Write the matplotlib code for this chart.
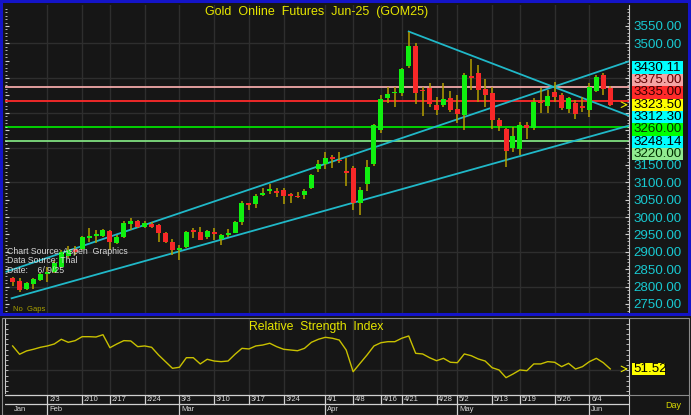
import matplotlib
matplotlib.use('Agg')
import matplotlib.pyplot as plt
import matplotlib.transforms as mtransforms
from matplotlib.patches import Rectangle
from matplotlib.lines import Line2D
from matplotlib import font_manager

# ---------------- data ----------------
opens = [2824, 2817, 2793, 2808, 2819, 2836, 2843, 2857, 2888, 2908,
         2907, 2941, 2946, 2946, 2960, 2925, 2944, 2980, 2990, 2972,
         2980, 2977, 2953, 2929, 2907, 2913, 2961, 2956, 2942, 2956,
         2936, 2949, 2955, 2985, 3040, 3038, 3064, 3075, 3075, 3077,
         3067, 3061, 3065, 3085, 3139, 3153, 3173, 3165, 3132, 3142,
         3042, 3094, 3152, 3251, 3342, 3356, 3358, 3436, 3492, 3366,
         3371, 3323, 3323, 3342, 3310, 3294, 3406, 3414, 3368, 3356,
         3280, 3254, 3198, 3196, 3265, 3256, 3332, 3320, 3361, 3351,
         3310, 3328, 3321, 3307, 3362, 3409, 3372]
highs = [2829, 2825, 2812, 2825, 2839, 2857, 2874, 2905, 2917, 2917,
         2946, 2968, 2963, 2966, 2963, 2949, 2989, 2997, 2993, 2989,
         2986, 2980, 2957, 2937, 2920, 2961, 2968, 2971, 2964, 2968,
         2951, 2965, 2989, 3045, 3042, 3067, 3083, 3095, 3083, 3084,
         3070, 3073, 3080, 3124, 3164, 3187, 3179, 3187, 3171, 3147,
         3088, 3164, 3267, 3351, 3375, 3375, 3430, 3534, 3502, 3375,
         3387, 3345, 3385, 3363, 3351, 3414, 3454, 3438, 3397, 3375,
         3285, 3257, 3258, 3275, 3275, 3343, 3372, 3366, 3390, 3357,
         3347, 3337, 3347, 3385, 3409, 3416, 3376]
lows = [2802, 2785, 2789, 2793, 2816, 2814, 2839, 2854, 2882, 2891,
        2905, 2929, 2926, 2943, 2905, 2923, 2941, 2963, 2969, 2969,
        2969, 2929, 2926, 2891, 2877, 2910, 2939, 2933, 2938, 2934,
        2920, 2944, 2953, 2977, 3021, 3025, 3061, 3067, 3059, 3038,
        3042, 3054, 3052, 3081, 3131, 3138, 3141, 3155, 3090, 3021,
        3006, 3075, 3147, 3243, 3329, 3318, 3349, 3430, 3325, 3292,
        3316, 3294, 3316, 3303, 3270, 3251, 3366, 3332, 3316, 3253,
        3248, 3145, 3188, 3179, 3224, 3251, 3300, 3299, 3332, 3308,
        3299, 3282, 3303, 3287, 3359, 3351, 3320]
closes = [2814, 2790, 2810, 2822, 2836, 2843, 2869, 2900, 2905, 2900,
          2943, 2944, 2949, 2963, 2929, 2944, 2984, 2989, 2971, 2984,
          2972, 2953, 2929, 2905, 2910, 2958, 2957, 2934, 2961, 2953,
          2948, 2953, 2985, 3042, 3036, 3061, 3069, 3081, 3069, 3061,
          3061, 3057, 3076, 3121, 3152, 3171, 3166, 3161, 3129, 3042,
          3078, 3145, 3264, 3339, 3354, 3361, 3426, 3492, 3358, 3363,
          3326, 3308, 3341, 3308, 3296, 3409, 3402, 3366, 3351, 3280,
          3262, 3191, 3233, 3265, 3256, 3330, 3328, 3349, 3345, 3313,
          3342, 3296, 3313, 3375, 3402, 3368, 3323.5]
rsi = [73.6, 65.6, 68.8, 70.4, 72.3, 73.6, 75.5, 80.0, 77.1, 78.7,
       82.5, 82.5, 82.2, 84.4, 71.9, 75.5, 78.7, 78.4, 72.9, 73.6,
       72.3, 64.9, 58.5, 52.1, 53.1, 62.3, 62.3, 56.3, 60.8, 59.1,
       58.5, 59.1, 65.6, 71.3, 70.7, 73.6, 74.5, 76.2, 72.9, 70.4,
       69.7, 69.0, 71.3, 77.1, 80.0, 81.9, 81.0, 79.3, 69.7, 48.8,
       56.9, 64.9, 73.6, 76.7, 77.7, 77.7, 81.0, 83.2, 66.5, 65.9,
       62.3, 59.4, 61.7, 57.9, 57.5, 65.9, 64.2, 61.1, 59.1, 52.7,
       50.5, 43.1, 46.6, 50.5, 49.8, 56.3, 56.3, 58.5, 57.9, 53.7,
       56.9, 51.4, 53.7, 58.5, 61.7, 57.5, 51.52]

week_labels = ['2/3', '2/10', '2/17', '2/24', '3/3', '3/10', '3/17', '3/24', '4/1',
               '4/8', '4/16', '4/21', '4/28', '5/2', '5/13', '5/19', '5/26', '6/4']
week_idx = [5, 10, 14, 19, 24, 29, 34, 39, 45, 49, 53, 56, 61, 64, 69, 73, 78, 83]
month_labels = ['Jan', 'Feb', 'Mar', 'Apr', 'May', 'Jun']
month_idx = [0, 5, 24, 45, 64, 83]

# trend lines: (index, price) anchor points
upper_channel = [(-0.9, 2843.0), (86, 3430.11)]
lower_channel = [(-0.15, 2766.4), (86, 3248.14)]
down_line = [(57, 3534.0), (86, 3312.30)]

levels = [3375.00, 3335.00, 3260.00, 3220.00]
level_colors = ['#f0a8a8', '#ff2a2a', '#00e000', '#80e080']

box_values = [3430.11, 3375.00, 3335.00, 3323.50, 3312.30, 3260.00, 3248.14, 3220.00]
box_colors = ['#00ffff', '#f4a4a4', '#ff2a2a', '#ffff00', '#00ffff', '#00ff00', '#00ffff', '#90ea90']
box_text_colors = ['#000000', '#600000', '#300000', '#000000', '#000000', '#003000', '#000000', '#003000']
last_price = 3323.50
last_rsi = 51.52

title = 'Gold  Online  Futures  Jun-25  (GOM25)'
rsi_title = 'Relative  Strength  Index'
info_lines = ['Chart Source: Aspen  Graphics', 'Data Source: Thal', 'Date:    6/ 9/25']

# ---------------- style ----------------
names = {f.name for f in font_manager.fontManager.ttflist}
NARROW = 'Liberation Sans Narrow' if 'Liberation Sans Narrow' in names else 'Liberation Sans'
plt.rcParams['font.family'] = ['Liberation Sans', 'DejaVu Sans']

BG = '#161616'
GRID = '#2e2e2e'
CYAN = '#18c8d0'
YEL = '#e6e600'
TREND = '#20b8c8'
WICK = '#b4a000'
GREEN = '#10f010'
RED = '#f82828'
LIGHT = '#d8d8d8'

W, H = 691, 415
fig = plt.figure(figsize=(W / 100, H / 100), dpi=100, facecolor=BG)


def fr(x0, y0, x1, y1):
    return [x0 / W, 1 - y1 / H, (x1 - x0) / W, (y1 - y0) / H]


ax = fig.add_axes(fr(5, 5, 629, 313), facecolor=BG)
rax = fig.add_axes(fr(5, 319, 629, 394), facecolor=BG, sharex=ax)
dax = fig.add_axes(fr(5, 394, 629, 415), facecolor=BG, sharex=ax)

N = len(closes)
xs = list(range(N))
XMIN, XMAX = -1.1, 88.7
ax.set_xlim(XMIN, XMAX)
ax.set_ylim(2724, 3610.4)

# grid
for wi in week_idx:
    ax.axvline(wi, color=GRID, lw=1.0, zorder=0)
    rax.axvline(wi, color=GRID, lw=1.0, zorder=0)
for p in range(2800, 3600, 100):
    ax.axhline(p, color=GRID, lw=1.0, zorder=0)

# level lines
for lv, c in zip(levels, level_colors):
    ax.axhline(lv, color=c, lw=1.3, zorder=1)

# trend lines extended to right edge
for (x0, y0), (x1, y1) in [upper_channel, lower_channel, down_line]:
    slope = (y1 - y0) / (x1 - x0)
    ax.plot([x0, XMAX], [y0, y0 + slope * (XMAX - x0)], color=TREND, lw=1.3, zorder=2)

# candles
ax.vlines(xs, lows, highs, color=WICK, lw=1.1, zorder=3)
for i in xs:
    o, c = opens[i], closes[i]
    col = GREEN if c >= o else RED
    lo, hi = min(o, c), max(o, c)
    if hi - lo < 5:
        mid = (hi + lo) / 2
        lo, hi = mid - 2.5, mid + 2.5
    ax.bar(i, hi - lo, bottom=lo, width=0.72, color=col, lw=0, zorder=4)

# right-side value boxes (stacked around last price)
BOX_H = 35.5
anchor = box_values.index(last_price)
ypos = [0.0] * len(box_values)
ypos[anchor] = last_price
for k in range(anchor - 1, -1, -1):
    ypos[k] = max(box_values[k], ypos[k + 1] + BOX_H)
for k in range(anchor + 1, len(box_values)):
    ypos[k] = min(box_values[k], ypos[k - 1] - BOX_H)
covered_lo = min(ypos) - BOX_H / 2 - 12
covered_hi = max(ypos) + BOX_H / 2 + 12

# axes styling main
for s in ['left', 'top', 'bottom']:
    ax.spines[s].set_visible(False)
ax.spines['right'].set_color('#c8c8c8')
ax.spines['right'].set_linewidth(0.8)
ax.set_yticks(range(2750, 3600, 50))
ax.set_yticks(range(2730, 3610, 10), minor=True)
ax.yaxis.set_major_formatter(matplotlib.ticker.FuncFormatter(
    lambda v, pos: '' if covered_lo < v < covered_hi else f'{v:.2f}'))
ax.tick_params(axis='y', which='major', direction='in', length=3, width=0.8, color='#d0d0d0',
               left=True, right=True, labelleft=False, labelright=True, labelcolor=CYAN,
               labelsize=9.6, pad=3)
ax.tick_params(axis='y', which='minor', direction='in', length=1.5, width=0.6, color='#d0d0d0',
               left=True, right=True)
ax.tick_params(axis='x', which='both', bottom=False, labelbottom=False)

btr = mtransforms.blended_transform_factory(ax.transAxes, ax.transData)
for v, yp, bc, tc in zip(box_values, ypos, box_colors, box_text_colors):
    ax.add_patch(Rectangle((1.0043, yp - BOX_H / 2), 0.0827, BOX_H, transform=btr,
                           facecolor=bc, edgecolor='none', clip_on=False, zorder=10))
    ax.text(1.0069, yp, f'{v:.2f}', transform=btr, color=tc, fontsize=9.6,
            ha='left', va='center', clip_on=False, zorder=11)

# last price marker
ax.annotate('', xy=(XMAX - 0.15, last_price), xytext=(XMAX - 0.9, last_price),
            arrowprops=dict(arrowstyle='->', color=YEL, lw=0.8), zorder=6)

# texts
ax.text(0.5, 0.977, title, transform=ax.transAxes, color=YEL, fontsize=9,
        family=[NARROW, 'Liberation Sans'], ha='center', va='center')
for k, line in enumerate(info_lines):
    ax.text(0.003, 0.20 - k * 0.031, line, transform=ax.transAxes, color=LIGHT,
            fontsize=6.3, ha='left', va='center', zorder=8)
ax.text(0.0128, 0.012, 'No  Gaps', transform=ax.transAxes, color='#a8a000',
        fontsize=5.5, ha='left', va='center')

# ---------------- RSI ----------------
rax.set_ylim(27.4, 99.5)
rax.axhline(50, color=GRID, lw=1.0, zorder=0)
rax.plot(xs, rsi, color='#c8c000', lw=1.0, zorder=3)
for s in ['top', 'bottom']:
    rax.spines[s].set_visible(False)
rax.spines['left'].set_color('#c8c8c8')
rax.spines['right'].set_color('#c8c8c8')
rax.spines['left'].set_linewidth(0.8)
rax.spines['right'].set_linewidth(0.8)
rax.set_yticks(range(30, 100, 5))
rax.tick_params(axis='y', direction='in', length=2.5, width=0.6, color='#d0d0d0',
                left=True, right=True, labelleft=False, labelright=False)
rax.tick_params(axis='x', bottom=False, labelbottom=False)
rax.text(0.498, 0.893, rsi_title, transform=rax.transAxes, color=YEL, fontsize=8.8,
         family=[NARROW, 'Liberation Sans'], ha='center', va='center')
rtr = mtransforms.blended_transform_factory(rax.transAxes, rax.transData)
RB_H = 11.5
rax.add_patch(Rectangle((1.0043, last_rsi - RB_H / 2), 0.0535, RB_H, transform=rtr,
                        facecolor='#ffff00', edgecolor='none', clip_on=False, zorder=10))
rax.text(1.0069, last_rsi, f'{last_rsi:.2f}', transform=rtr, color='#000000', fontsize=9.6,
         ha='left', va='center', clip_on=False, zorder=11)
rax.annotate('', xy=(XMAX - 0.15, last_rsi), xytext=(XMAX - 0.9, last_rsi),
             arrowprops=dict(arrowstyle='->', color=YEL, lw=0.8), zorder=6)

# ---------------- date rows ----------------
dax.set_ylim(21, 0)
for s in dax.spines.values():
    s.set_visible(False)
dax.tick_params(left=False, bottom=False, labelleft=False, labelbottom=False)
dax.axhline(0.5, color='#d0d0d0', lw=0.9)
dax.axhline(9.5, color='#d0d0d0', lw=0.9)
for wi, wl in zip(week_idx, week_labels):
    dax.plot([wi, wi], [0.5, 9.5], color='#d0d0d0', lw=0.9)
    dax.text(wi + 0.25, 5.2, wl, color=LIGHT, fontsize=5.5, ha='left', va='center')
for k, (mi, ml) in enumerate(zip(month_idx, month_labels)):
    if k > 0:
        dax.plot([mi, mi], [9.5, 21], color='#d0d0d0', lw=0.9)
    dax.text(mi + 0.25, 15.5, ml, color=LIGHT, fontsize=5.5, ha='left', va='center')

# ---------------- frames ----------------
oax = fig.add_axes([0, 0, 1, 1], zorder=20)
oax.set_xlim(0, W)
oax.set_ylim(H, 0)
oax.axis('off')
oax.patch.set_alpha(0)
oax.add_patch(Rectangle((1.5, 1.2), 687.5, 312.8, facecolor='none', edgecolor='#1414c8', lw=2.2))
oax.add_patch(Rectangle((2.5, 318.3), 686.5, 96.2, facecolor='none', edgecolor='#8a8a8a', lw=0.8))
oax.add_line(Line2D([629.5, 629.5], [394, 415], color='#d0d0d0', lw=0.8))
oax.add_line(Line2D([629.5, 689], [394.5, 394.5], color='#8a8a8a', lw=0.8))
oax.text(665, 405, 'Day', color='#d8d800', fontsize=6.5, ha='left', va='center')

fig.savefig('out.png', dpi=100, facecolor=BG)
